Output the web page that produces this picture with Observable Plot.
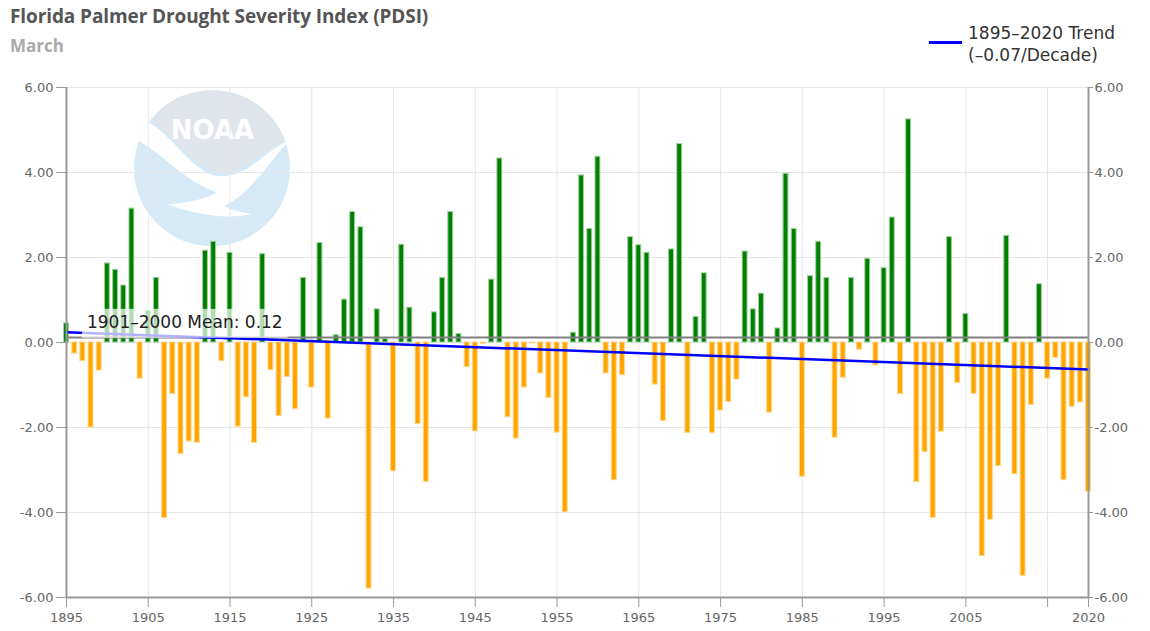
<!DOCTYPE html>
<html><head><meta charset="utf-8">
<script src="https://cdn.jsdelivr.net/npm/d3@7"></script>
<script src="https://cdn.jsdelivr.net/npm/@observablehq/plot@0.6"></script>
<style>
body{margin:0;background:#fff;}
#wrap{position:relative;width:1150px;height:631px;overflow:hidden;}
#title{position:absolute;left:10px;top:3px;font:bold 19px "Open Sans",sans-serif;color:#555;white-space:nowrap;letter-spacing:-0.1px;}
#subtitle{position:absolute;left:10px;top:34px;font:bold 17px "Open Sans",sans-serif;color:#aaa;}
#legend{position:absolute;left:929px;top:22px;font:17px "DejaVu Sans",sans-serif;color:#333;line-height:22px;}
#legend .sw{position:absolute;left:0;top:19px;width:33px;height:3px;background:#0000ff;}
#legend .tx{margin-left:39px;white-space:nowrap;}
</style></head>
<body><div id="wrap"><div id="chart"></div>
<div id="title">Florida Palmer Drought Severity Index (PDSI)</div>
<div id="subtitle">March</div>
<div id="legend"><div class="sw"></div><div class="tx">1895–2020 Trend<br>(–0.07/Decade)</div></div>
</div>
<script>
const startYear = 1895;
const endYear = 2020;
const pdsi = [
 0.45,-0.26,-0.44,-2.00,-0.66, 1.86, 1.71, 1.34, 3.15,-0.85,
 0.75, 1.52,-4.13,-1.21,-2.62,-2.33,-2.36, 2.16, 2.37,-0.44,
 2.11,-1.98,-1.29,-2.36, 2.08,-0.65,-1.73,-0.81,-1.57, 1.52,
-1.06, 2.34,-1.79, 0.17, 1.01, 3.07, 2.71,-5.79, 0.78, 0.08,
-3.03, 2.30, 0.82,-1.92,-3.28, 0.71, 1.52, 3.07, 0.20,-0.58,
-2.09,-0.03, 1.48, 4.33,-1.76,-2.26,-1.06,-0.02,-0.73,-1.31,
-2.12,-3.99, 0.23, 3.93, 2.67, 4.37,-0.73,-3.24,-0.77, 2.48,
 2.29, 2.11,-0.99,-1.85, 2.19, 4.67,-2.13, 0.60, 1.63,-2.13,
-1.60,-1.40,-0.87, 2.14, 0.78, 1.15,-1.65, 0.33, 3.97, 2.67,
-3.16, 1.56, 2.37, 1.52,-2.24,-0.83, 1.52,-0.17, 1.97,-0.54,
 1.75, 2.94,-1.21, 5.25,-3.28,-2.58,-4.13,-2.10, 2.48,-0.95,
 0.67,-1.21,-5.02,-4.17,-2.91, 2.51,-3.10,-5.49,-1.47, 1.37,
-0.85,-0.36,-3.24,-1.51,-1.41,-3.51
];
const meanValue = 0.12;
const meanLabel = "1901–2000 Mean: 0.12";
const trendYears = [1895, 2020];
const trendValues = [0.24, -0.635];
const xTicks = [1895,1905,1915,1925,1935,1945,1955,1965,1975,1985,1995,2005,2015,2020];
const xLabelSkip = [2015];
const yTicks = [-6,-4,-2,0,2,4,6];
const logoPos = {year: 1912.86, value: 4.09};

const years = d3.range(startYear, endYear + 1);
const data = years.map((y, i) => ({year: y, value: pdsi[i]}));
const trend = trendYears.map((y, i) => ({year: y, value: trendValues[i]}));

// faint NOAA watermark, positioned through the scales
function noaaLogo(index, scales) {
  const cx = scales.x(logoPos.year), cy = scales.y(logoPos.value), R = 78;
  const ns = "http://www.w3.org/2000/svg";
  const g = document.createElementNS(ns, "g");
  g.setAttribute("opacity", "0.9");
  const add = (tag, attrs) => {
    const e = document.createElementNS(ns, tag);
    for (const k in attrs) e.setAttribute(k, attrs[k]);
    g.appendChild(e); return e;
  };
  const cpId = "noaaclip";
  const defs = add("defs", {});
  const cp = document.createElementNS(ns, "clipPath");
  cp.setAttribute("id", cpId);
  const cc = document.createElementNS(ns, "circle");
  cc.setAttribute("cx", cx); cc.setAttribute("cy", cy); cc.setAttribute("r", R);
  cp.appendChild(cc); defs.appendChild(cp);
  add("circle", {cx, cy, r: R, fill: "#d2e7f6"});
  const inner = add("g", {"clip-path": `url(#${cpId})`});
  const path = (d, fill) => {
    const e = document.createElementNS(ns, "path");
    e.setAttribute("d", d); e.setAttribute("fill", fill); inner.appendChild(e);
  };
  path(`M${cx-R},${cy-R} H${cx+R} V${cy-30} C${cx+50},${cy-20} ${cx+35},${cy+5} ${cx+10},${cy+5}
        C${cx-20},${cy+5} ${cx-40},${cy-45} ${cx-R},${cy-55} Z`, "#dde3ea");
  path(`M${cx-R},${cy-52} C${cx-40},${cy-42} ${cx-22},${cy+8} ${cx+10},${cy+8}
        C${cx+38},${cy+8} ${cx+52},${cy-18} ${cx+R},${cy-28}
        C${cx+55},${cy-5} ${cx+40},${cy+25} ${cx+12},${cy+38}
        C${cx+20},${cy+42} ${cx+30},${cy+44} ${cx+40},${cy+46}
        C${cx+10},${cy+52} ${cx-20},${cy+45} ${cx-45},${cy+36}
        C${cx-20},${cy+34} ${cx-5},${cy+30} ${cx+5},${cy+24}
        C${cx-25},${cy+15} ${cx-50},${cy-15} ${cx-R},${cy-30} Z`, "#ffffff");
  return g;
}

const plot = Plot.plot({
  width: 1150, height: 631,
  marginTop: 87, marginBottom: 34, marginLeft: 66, marginRight: 62,
  style: {fontFamily: "DejaVu Sans", fontSize: "13px", background: "transparent"},
  x: {type: "linear", domain: [startYear, endYear]},
  y: {domain: [-6, 6]},
  marks: [
    noaaLogo,
    Plot.text([logoPos], {x: "year", y: "value", text: () => "NOAA", dy: -38, fill: "#fff", fontSize: 26, fontWeight: "bold", fontFamily: "DejaVu Sans"}),
    Plot.gridX(xTicks, {stroke: "#e6e6e6", strokeOpacity: 1}),
    Plot.gridY(yTicks, {stroke: "#e6e6e6", strokeOpacity: 1}),
    Plot.rectY(data, {
      x1: d => d.year - 0.3, x2: d => d.year + 0.3, y1: 0, y2: "value",
      fill: d => d.value >= 0 ? "#008000" : "#ffa500",
      stroke: d => d.value >= 0 ? "#9fd09f" : "#ffd68a", strokeWidth: 1
    }),
    Plot.ruleY([meanValue], {stroke: "#808080", strokeWidth: 2}),
    Plot.line(trend, {x: "year", y: "value", stroke: "#0000ff", strokeWidth: 2.5}),
    Plot.text([meanValue], {x: () => 1897.5, y: d => d, text: () => meanLabel, textAnchor: "start", dy: -15, fontSize: 17, fill: "#222"}),
    Plot.ruleX([startYear, endYear], {stroke: "#999", strokeWidth: 2}),
    Plot.ruleY([-6], {stroke: "#999", strokeWidth: 2}),
    Plot.axisX(xTicks, {tickSize: 10, tickPadding: 5, stroke: "#999", fill: "#666", fontSize: 13,
      tickFormat: d => xLabelSkip.includes(d) ? "" : String(d), label: null}),
    Plot.axisY(yTicks, {anchor: "left", tickSize: 10, tickPadding: 3, stroke: "#999", fill: "#666", fontSize: 13,
      tickFormat: d => d.toFixed(2), label: null}),
    Plot.axisY(yTicks, {anchor: "right", tickSize: 4, tickPadding: 2, stroke: "#999", fill: "#666", fontSize: 13,
      tickFormat: d => d.toFixed(2), label: null})
  ]
});
document.getElementById("chart").appendChild(plot);

// semi-transparent box behind the mean label
const labelText = Array.from(plot.querySelectorAll("text")).find(t => t.textContent === meanLabel);
if (labelText) {
  const b = labelText.getBBox();
  const r = document.createElementNS("http://www.w3.org/2000/svg", "rect");
  r.setAttribute("x", b.x - 5);
  r.setAttribute("y", b.y - 3);
  r.setAttribute("width", b.width + 10);
  r.setAttribute("height", b.height + 9);
  r.setAttribute("fill", "#fff");
  r.setAttribute("fill-opacity", 0.7);
  if (labelText.getAttribute("transform")) r.setAttribute("transform", labelText.getAttribute("transform"));
  labelText.parentNode.insertBefore(r, labelText);
}
</script>
</body></html>
